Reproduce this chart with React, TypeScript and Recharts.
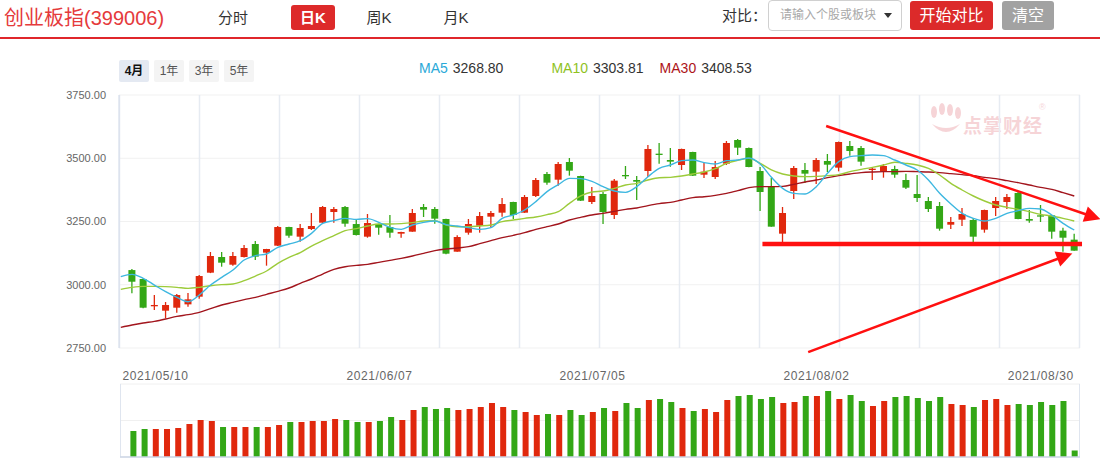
import React from 'react';
import { ComposedChart, Bar, Line, XAxis, YAxis, CartesianGrid, ReferenceLine, Cell } from 'recharts';

// ---------- data ----------
const dates = [
  '2021/05/06','2021/05/07','2021/05/10','2021/05/11','2021/05/12','2021/05/13','2021/05/14','2021/05/17','2021/05/18','2021/05/19','2021/05/20','2021/05/21','2021/05/24','2021/05/25','2021/05/26','2021/05/27','2021/05/28','2021/05/31',
  '2021/06/01','2021/06/02','2021/06/03','2021/06/04','2021/06/07','2021/06/08','2021/06/09','2021/06/10','2021/06/11','2021/06/15','2021/06/16','2021/06/17','2021/06/18','2021/06/21','2021/06/22','2021/06/23','2021/06/24','2021/06/25','2021/06/28','2021/06/29','2021/06/30',
  '2021/07/01','2021/07/02','2021/07/05','2021/07/06','2021/07/07','2021/07/08','2021/07/09','2021/07/12','2021/07/13','2021/07/14','2021/07/15','2021/07/16','2021/07/19','2021/07/20','2021/07/21','2021/07/22','2021/07/23','2021/07/26','2021/07/27','2021/07/28','2021/07/29','2021/07/30',
  '2021/08/02','2021/08/03','2021/08/04','2021/08/05','2021/08/06','2021/08/09','2021/08/10','2021/08/11','2021/08/12','2021/08/13','2021/08/16','2021/08/17','2021/08/18','2021/08/19','2021/08/20','2021/08/23','2021/08/24','2021/08/25','2021/08/26','2021/08/27','2021/08/30','2021/08/31',
  '2021/09/01','2021/09/02',
];
const dateTickIdx = [2, 22, 41, 61, 81];

const openP = [3058,3022.7,2917,2897.5,2909.3,2922.5,2952.8,3047.7,3109.6,3079.3,3109.6,3161,3126.8,3154.4,3228.2,3190,3220.3,3245.3,3287.5,3307.3,3240,3190,3240.1,3228.2,3201.9,3209.8,3307.3,3299.4,3259.9,3130.7,3205.8,3233.5,3269.1,3284.9,3327.1,3284.9,3350.8,3437.7,3415.3,3485.2,3429.8,3327.1,3358.7,3275.7,3433.8,3414,3449.6,3518.1,3493.1,3473.3,3524.7,3435.1,3425.9,3478.6,3572.1,3540.5,3449.6,3386.4,3201.9,3370.5,3453.6,3447,3489.1,3462.8,3548.4,3540.5,3453.6,3447,3457.5,3414,3358.7,3331,3311.2,3237.4,3257.2,3255.9,3217.7,3303.3,3327.1,3362.6,3259.9,3274.4,3274.4,3213.7,3178.2];
const highP = [3062,3025,2959.4,2931.7,2963.4,2967.3,3038.5,3129.4,3129.4,3129.4,3157.1,3172.9,3142,3232.2,3229,3240.1,3283.6,3311.2,3307.3,3311.2,3255.9,3279.6,3241,3275.7,3209,3299.4,3319.1,3307.3,3261,3195.3,3259.9,3287.5,3291.5,3342.9,3328,3354.7,3421.9,3445.6,3485.2,3501,3431,3386.4,3366.6,3418,3469.4,3429.8,3552.4,3560.3,3540.5,3538,3526,3481.2,3489.1,3568.2,3576.1,3542,3465.4,3421.9,3307.3,3469.4,3481.2,3501,3516.8,3566,3568.2,3548.4,3465.4,3477.3,3470.7,3439.1,3433.8,3346.8,3327.1,3267.8,3303.3,3263.8,3297,3346.8,3358.7,3370.5,3295.4,3315.2,3275,3225.6,3201.9];
const lowP = [2966,2907,2900,2867.2,2889.6,2913.3,2945,3046,3071.4,3075.4,3108,3097.8,3075.4,3153,3186,3170.3,3216.4,3244,3245.3,3229.6,3195,3186,3197.9,3186,3186,3209,3267.8,3241.4,3121,3130,3197.9,3205.8,3225.6,3269.1,3259.9,3284,3346.8,3395.6,3391.6,3431.2,3331,3319.1,3240.1,3259.9,3418,3335,3425.9,3478.6,3466.7,3453.6,3430,3421.9,3418,3473.3,3512.8,3464,3291.5,3229,3162.4,3338.9,3402.2,3398.2,3445.6,3448.3,3510.2,3470.7,3414,3423.2,3423.2,3378.4,3327.1,3287.5,3213.7,3220.3,3232.2,3166.3,3205.8,3271.7,3299.4,3259,3245.3,3248,3182,3130.7,3134];
const closeP = [3012,2909.3,2920,2919.9,2959.4,2942.3,3034.5,3113.6,3087.2,3113.6,3145.2,3111,3141.3,3228.2,3194,3224.3,3232.2,3307.3,3299.4,3241.4,3196.6,3244,3225.6,3205.8,3208.5,3283.6,3296.8,3261.2,3122.8,3188.7,3240.1,3271.7,3283.6,3319.1,3275.7,3346.8,3414,3403.5,3477.3,3450.9,3332.3,3350.8,3287.5,3411.4,3429.8,3407.4,3536.6,3514.2,3486.5,3536.6,3431.2,3447,3465.4,3560.3,3541.8,3465.4,3366.6,3229.6,3283.6,3461.5,3439.1,3493.1,3474.6,3564.2,3528.6,3486.5,3458.8,3469.4,3435.1,3383.7,3342.9,3299.4,3221.6,3248,3279.6,3190,3295.4,3331,3346.8,3259.9,3253.3,3270.4,3209.8,3186,3134.7];
const volume = [142,153,153,153,159,181,203,197,164,164,164,164,164,175,192,192,197,197,208,203,192,192,197,219,203,258,274,263,268,258,263,274,296,274,258,247,230,236,230,258,230,247,268,252,296,268,312,318,301,268,252,263,247,312,334,340,318,329,296,301,334,334,362,318,340,307,279,307,329,334,323,307,329,290,285,274,312,318,285,290,285,301,285,307,35];

// moving averages: first value is the day before the first candle (line enters from the left edge)
const ma5 = [3031.9,3041.1,3025.3,2998.9,2972.6,2950.2,2933.1,2959.4,2998.9,3029.3,3058.2,3097.8,3114.9,3121.5,3147.9,3161,3174.2,3203.2,3242.7,3253.3,3262.5,3258.5,3261.2,3246.7,3226.9,3219,3236.1,3246.7,3251.9,3237.4,3232.2,3225.6,3219,3225.6,3262.5,3275.7,3295.4,3328.4,3367.9,3395.6,3420.6,3419.3,3408.8,3387.7,3370.5,3365.3,3387.7,3427.2,3460.1,3473.3,3490.4,3493.1,3482.5,3477.3,3490.4,3493.1,3501,3477.3,3424.6,3381.1,3361.3,3358.7,3387.7,3440.4,3486.5,3506.3,3510.2,3512.8,3510.2,3493.1,3473.3,3453.6,3414,3361.3,3319.1,3282.3,3262.5,3251.9,3262.5,3282.3,3292.8,3302,3299.4,3275.7,3242.7,3216.4];
const ma10 = [2981.8,2989.7,2993.7,2993.7,2992.4,2989.7,2985.8,2989.7,2996.3,3000.3,3002.9,3016.1,3034.5,3054.3,3084.6,3108.3,3126.8,3153.1,3174.2,3194,3213.7,3221.6,3232.2,3240.1,3240.1,3241.4,3245.4,3251.9,3253.3,3236.1,3229.5,3229.5,3232.2,3236.1,3249.3,3255.9,3262.5,3267.8,3277,3288.8,3321.8,3350.8,3366.6,3370.5,3381.1,3394.3,3400.8,3414,3423.2,3424.6,3429.8,3437.7,3445.6,3458.8,3479.9,3491.8,3499.7,3479.9,3453.6,3437.7,3429.8,3427.2,3428.5,3431.2,3435.1,3447,3456.2,3464.1,3473.3,3483.9,3479.9,3473.3,3460.1,3433.8,3400.8,3374.5,3350.8,3331,3315.2,3306,3298.1,3288.8,3278.3,3271.7,3262.5,3251.9];
const ma30 = [2831.6,2840.8,2848.7,2855.3,2864.5,2875.1,2881.7,2890.9,2905.4,2919.9,2930.4,2941,2950.2,2962.1,2973.9,2987.1,3005.5,3022.7,3042.4,3060.9,3071.4,3076.7,3080.6,3088.5,3096.5,3104.4,3113.6,3124.1,3134.7,3141.3,3145.2,3150.5,3162.3,3174.2,3186.1,3195.3,3205.8,3219,3229.5,3240.1,3255.9,3266.4,3275.7,3282.3,3290.2,3298.1,3303.3,3312.6,3320.5,3325.7,3335,3344.2,3348.1,3353.4,3361.3,3371.9,3383.7,3387.7,3387.7,3389,3396.9,3406.1,3414,3423.2,3431.2,3437.7,3443,3445.6,3447,3447,3448.3,3447,3445.6,3443,3439.1,3435.1,3431.2,3424.6,3419.3,3411.4,3403.5,3394.3,3385,3377.1,3363.9,3350.8];

const priceTicks = [2750, 3000, 3250, 3500, 3750];
const volTicks = [0, 100, 200, 300, 400];

// hand-drawn annotation segments, in (candle index, index level)
const upperTrend = [{ x: 61.88, y: 3627.5 }, { x: 86.33, y: 3259 }];
const supportLine = [{ x: 56.2, y: 3161 }, { x: 84.69, y: 3161 }];
const lowerTrend = [{ x: 60.28, y: 2734 }, { x: 83.83, y: 3124 }];

const legendItems = [
  { name: 'MA5', value: '3268.80', color: '#2aa9d8' },
  { name: 'MA10', value: '3303.81', color: '#8fc21f' },
  { name: 'MA30', value: '3408.53', color: '#ad1419' },
];
const rangeButtons = ['4月', '1年', '3年', '5年'];

// ---------- styles ----------
const RED = '#e0280d';
const GREEN = '#33a716';
const FONT = "'Liberation Sans', Arial, 'Noto Sans CJK SC', sans-serif";
const X_DOMAIN: [number, number] = [-1.16, 84.51];

const priceRows = ma5.map((_, k) => {
  const i = k - 1;
  const row: any = { i, ma5: ma5[k], ma10: ma10[k], ma30: ma30[k] };
  if (i >= 0) {
    row.open = openP[i];
    row.high = highP[i];
    row.low = lowP[i];
    row.close = closeP[i];
    row.range = [lowP[i], highP[i]];
  }
  return row;
});
const volRows = volume.map((v, i) => ({ i, vol: v, up: closeP[i] >= openP[i] }));

const Candle = (props: any) => {
  const { x, y, width, height, payload } = props;
  if (!payload || payload.high == null) return null;
  const top = Math.min(y, y + height);
  const h = Math.abs(height);
  const span = payload.high - payload.low;
  const k = span > 0 ? h / span : 0;
  const py = (v: number) => top + (payload.high - v) * k;
  const color = payload.close >= payload.open ? RED : GREEN;
  const cx = x + width / 2;
  const bTop = py(Math.max(payload.open, payload.close));
  const bBot = py(Math.min(payload.open, payload.close));
  return (
    <g>
      <line x1={cx} x2={cx} y1={top} y2={top + h} stroke={color} strokeWidth={1.3} />
      <rect x={x} y={bTop} width={width} height={Math.max(1.3, bBot - bTop)} fill={color} />
    </g>
  );
};

const arrowShape = (withHead: boolean, w: number) => (p: any) => {
  const { x1, y1, x2, y2 } = p;
  if (!withHead) {
    return <line x1={x1} y1={y1} x2={x2} y2={y2} stroke="#ff1010" strokeWidth={w} />;
  }
  const dx = x2 - x1;
  const dy = y2 - y1;
  const len = Math.sqrt(dx * dx + dy * dy) || 1;
  const ux = dx / len;
  const uy = dy / len;
  const hl = 16;
  const hw = 8;
  const bx = x2 - ux * hl;
  const by = y2 - uy * hl;
  const pts = `${x2},${y2} ${bx - uy * hw},${by + ux * hw} ${bx + uy * hw},${by - ux * hw}`;
  return (
    <g>
      <line x1={x1} y1={y1} x2={bx + ux * 2} y2={by + uy * 2} stroke="#ff1010" strokeWidth={w} />
      <polygon points={pts} fill="#ff1010" />
    </g>
  );
};

const textBtn = (label: string, left: number, opts: any = {}) => (
  <div
    key={label}
    style={{
      position: 'absolute', left, top: opts.top ?? 5, width: opts.width, height: opts.height ?? 25,
      lineHeight: `${opts.height ?? 25}px`, textAlign: 'center', fontSize: opts.fontSize ?? 15,
      color: opts.color ?? '#333', background: opts.bg ?? 'transparent', borderRadius: opts.radius ?? 3,
      fontWeight: opts.bold ? 700 : 400,
    }}
  >
    {label}
  </div>
);

export default function App() {
  return (
    <div style={{ position: 'relative', width: 1100, height: 460, background: '#fff', fontFamily: FONT, overflow: 'hidden' }}>
      <style>{'body{margin:0;}'}</style>

      {/* header */}
      <div style={{ position: 'absolute', left: 4, top: 4, fontSize: 20, color: '#e53a3c', lineHeight: '28px' }}>创业板指(399006)</div>
      {textBtn('分时', 214, { width: 38 })}
      {textBtn('日K', 291, { width: 44, bg: '#dd2a2a', color: '#fff', bold: true })}
      {textBtn('周K', 360, { width: 38 })}
      {textBtn('月K', 437, { width: 38 })}

      <div style={{ position: 'absolute', left: 722, top: 3, fontSize: 15, color: '#333', lineHeight: '25px' }}>对比：</div>
      <div style={{ position: 'absolute', left: 768, top: 0, width: 132, height: 29, border: '1px solid #d0d0d0', borderRadius: 4, overflow: 'hidden' }}>
        <div style={{ position: 'absolute', left: 11, top: 0, width: 100, height: 29, whiteSpace: 'nowrap', fontSize: 12, color: '#a8a8a8', lineHeight: '29px' }}>请输入个股或板块</div>
        <div style={{ position: 'absolute', left: 115, top: 12, width: 0, height: 0, borderLeft: '4px solid transparent', borderRight: '4px solid transparent', borderTop: '5px solid #333' }} />
      </div>
      {textBtn('开始对比', 910, { width: 83, top: 1, height: 29, bg: '#dc2a2a', color: '#fff', fontSize: 16 })}
      {textBtn('清空', 1002, { width: 52, top: 1, height: 29, bg: '#a2a2a2', color: '#fff', fontSize: 16 })}
      <div style={{ position: 'absolute', left: 0, top: 37, width: 1100, height: 2, background: '#e0262b' }} />

      {/* range buttons */}
      {rangeButtons.map((b, k) => (
        <div key={b} style={{
          position: 'absolute', left: 119 + k * 35, top: 60, width: 30, height: 22, lineHeight: '22px', textAlign: 'center',
          fontSize: 12, background: k === 0 ? '#e4e9f2' : '#f4f4f4', color: k === 0 ? '#111' : '#555', fontWeight: k === 0 ? 700 : 400, borderRadius: 2,
        }}>{b}</div>
      ))}

      {/* legend */}
      <div style={{ position: 'absolute', left: 419, top: 59, fontSize: 14, lineHeight: '18px', whiteSpace: 'nowrap', display: 'flex' }}>
        {legendItems.map((m, k) => (
          <span key={m.name} style={{ marginRight: k === 0 ? 48 : 16 }}>
            <span style={{ color: m.color }}>{m.name}</span>
            <span style={{ color: '#333', marginLeft: 5 }}>{m.value}</span>
          </span>
        ))}
      </div>

      {/* watermark */}
      <div style={{ position: 'absolute', left: 928, top: 100, width: 130, height: 40, opacity: 0.22 }}>
        <svg width={36} height={36} style={{ position: 'absolute', left: 0, top: 2 }}>
          <ellipse cx={6} cy={10} rx={3} ry={6} fill="#d9414f" />
          <ellipse cx={14} cy={7} rx={3} ry={6} fill="#d9414f" />
          <ellipse cx={22} cy={8} rx={3} ry={6} fill="#d9414f" />
          <ellipse cx={30} cy={11} rx={3} ry={6} fill="#d9414f" />
          <path d="M4 22 Q 18 38 32 22 Q 18 30 4 22 Z" fill="#d9414f" />
        </svg>
        <div style={{ position: 'absolute', left: 35, top: 11, fontSize: 19, fontWeight: 700, color: '#d9414f', letterSpacing: 1 }}>点掌财经</div>
        <div style={{ position: 'absolute', left: 111, top: 2, fontSize: 9, color: '#d9414f' }}>®</div>
      </div>

      {/* price chart */}
      <div style={{ position: 'absolute', left: 0, top: 0 }}>
        <ComposedChart width={1100} height={362} data={priceRows} margin={{ top: 95, right: 20, bottom: 14, left: 0 }}>
          <CartesianGrid vertical={false} stroke="#f1f1f1" />
          <CartesianGrid horizontal={false} stroke="#e6ebf2" strokeWidth={1.5}
            verticalCoordinatesGenerator={({ offset }: any) => Array.from({ length: 13 }, (_, k) => offset.left + 80 * k + 0.5)} />
          <XAxis dataKey="i" type="number" domain={X_DOMAIN} allowDataOverflow hide />
          <YAxis domain={[2750, 3750]} ticks={priceTicks} allowDataOverflow width={119}
            tickFormatter={(v: number) => v.toFixed(2)} tickLine={false} tickSize={0} tickMargin={13}
            axisLine={{ stroke: '#d3dcea' }} tick={{ fill: '#666', fontSize: 11, fontFamily: FONT }} />
          <Bar dataKey="range" barSize={7} shape={Candle} isAnimationActive={false} />
          <Line dataKey="ma30" type="monotone" stroke="#a2151d" strokeWidth={1.4} dot={false} isAnimationActive={false} />
          <Line dataKey="ma10" type="monotone" stroke="#9ccb3a" strokeWidth={1.4} dot={false} isAnimationActive={false} />
          <Line dataKey="ma5" type="monotone" stroke="#3db7e0" strokeWidth={1.4} dot={false} isAnimationActive={false} />
          <ReferenceLine segment={supportLine} ifOverflow="visible" shape={arrowShape(false, 4.5)} />
          <ReferenceLine segment={upperTrend} ifOverflow="visible" shape={arrowShape(true, 2.5)} />
          <ReferenceLine segment={lowerTrend} ifOverflow="visible" shape={arrowShape(true, 2.5)} />
        </ComposedChart>
      </div>

      {/* volume chart */}
      <div style={{ position: 'absolute', left: 0, top: 360 }}>
        <ComposedChart width={1100} height={100} data={volRows} margin={{ top: 0, right: 20, bottom: 3, left: 120 }}>
          <CartesianGrid vertical={false} stroke="#f0f0f0" />
          <CartesianGrid horizontal={false} stroke="#dfe5ef"
            verticalCoordinatesGenerator={({ offset }: any) => [offset.left + 0.5, offset.left + offset.width - 0.5]} />
          <XAxis dataKey="i" type="number" domain={X_DOMAIN} allowDataOverflow orientation="top" height={24}
            ticks={dateTickIdx} tickFormatter={(i: number) => dates[i]} interval={0}
            tickLine={false} axisLine={false} tickSize={0} tickMargin={4}
            tick={{ fill: '#666', fontSize: 12, fontFamily: FONT, letterSpacing: 0.6 }} />
          <YAxis hide domain={[0, 400]} ticks={volTicks} />
          <ReferenceLine y={0} stroke="#cdd6e6" strokeWidth={1.5} />
          <Bar dataKey="vol" barSize={6} isAnimationActive={false}>
            {volRows.map((r) => (
              <Cell key={r.i} fill={r.up ? RED : GREEN} />
            ))}
          </Bar>
        </ComposedChart>
      </div>
    </div>
  );
}
